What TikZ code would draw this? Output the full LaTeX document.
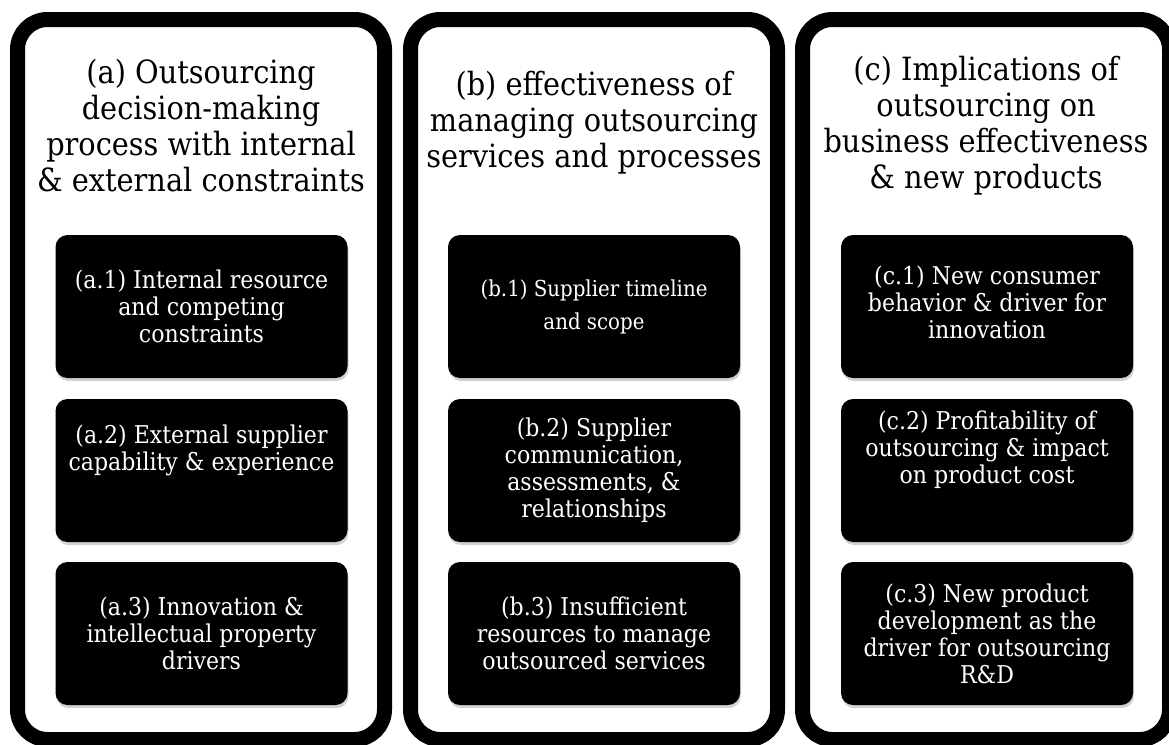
\documentclass[tikz,border=0pt]{standalone}
\usepackage{fontspec}
\setmainfont{DejaVu Serif Condensed}
\usetikzlibrary{shadows}

\begin{document}
\begin{tikzpicture}[x=1pt, y=-1pt,
        panel/.style={line width=15pt, rounded corners=30pt},
        heading/.style={align=center, font=\fontsize{32}{36}\selectfont},
        item/.style={fill=black, rounded corners=12pt, minimum width=292pt,
            minimum height=143pt, inner sep=0pt,
            drop shadow={shadow xshift=1pt, shadow yshift=-3pt, opacity=0.35}},
        itemtext/.style={text=white, align=center, font=\fontsize{24.5}{27}\selectfont}]
            \clip (0, 0) rectangle (1169, 744);
            \fill[white] (0, 0) rectangle (1169, 744);

            \draw[panel] (17.5, 19.5) rectangle (384.5, 739.5);
            \draw[panel] (410.5, 19.5) rectangle (777.5, 739.5);
            \draw[panel] (802.5, 19.5) rectangle (1169.5, 739.5);

            \node[heading] (ha) at (201, 126) {(a) Outsourcing\\decision-making\\process with internal\\\& external constraints};
            \node[heading] (hb) at (594, 123) {(b) effectiveness of\\managing outsourcing\\services and processes};
            \node[heading] (hc) at (986, 126) {(c) Implications of\\outsourcing on\\business effectiveness\\\& new products};

            \node[item] (a1) at (201.5, 306.5) {};
            \node[item] (a2) at (201.5, 470.5) {};
            \node[item] (a3) at (201.5, 633.5) {};
            \node[item] (b1) at (594, 306.5) {};
            \node[item] (b2) at (594, 470.5) {};
            \node[item] (b3) at (594, 633.5) {};
            \node[item] (c1) at (987, 306.5) {};
            \node[item] (c2) at (987, 470.5) {};
            \node[item] (c3) at (987, 633.5) {};

            \node[itemtext] (a1t) at (a1) {(a.1) Internal resource\\and competing\\constraints};
            \node[itemtext, yshift=20pt] (a2t) at (a2) {(a.2) External supplier\\capability \& experience};
            \node[itemtext] (a3t) at (a3) {(a.3) Innovation \&\\intellectual property\\drivers};
            \node[itemtext, font=\fontsize{22}{33}\selectfont] (b1t) at (b1) {(b.1) Supplier timeline\\and scope};
            \node[itemtext] (b2t) at (b2) {(b.2) Supplier\\communication,\\assessments, \&\\relationships};
            \node[itemtext] (b3t) at (b3) {(b.3) Insufficient\\resources to manage\\outsourced services};
            \node[itemtext, yshift=4pt] (c1t) at (c1) {(c.1) New consumer\\behavior \& driver for\\innovation};
            \node[itemtext, yshift=21pt] (c2t) at (c2) {(c.2) Profitability of\\outsourcing \& impact\\on product cost};
            \node[itemtext] (c3t) at (c3) {(c.3) New product\\development as the\\driver for outsourcing\\R\&D};
        \end{tikzpicture}
\end{document}
